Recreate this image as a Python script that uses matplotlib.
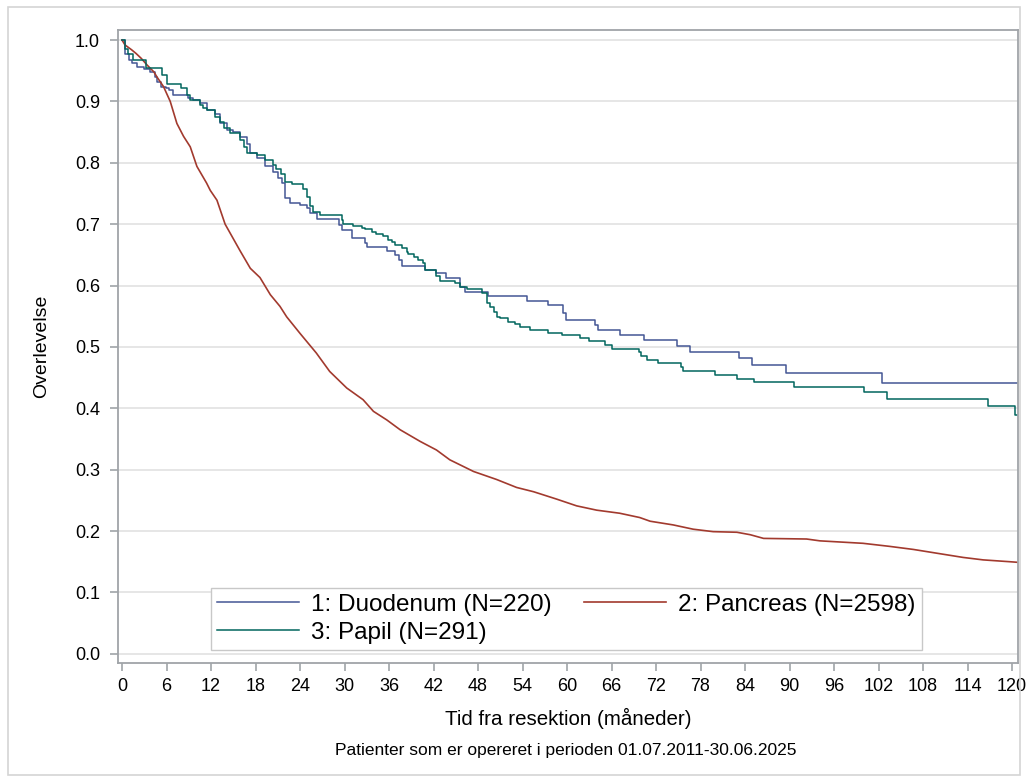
import matplotlib
matplotlib.use("Agg")
import matplotlib.pyplot as plt
from matplotlib.patches import Rectangle

# Kaplan-Meier survival (months, survival)
duo_t = [0, 0.4, 0.9, 1.3, 2.0, 3.0, 3.8, 4.5, 4.7, 5.3, 5.9, 6.4, 6.9, 8.9, 9.6,
         10.5, 11.4, 12.5, 13.2, 14.1, 15.0, 15.9, 16.8, 17.2, 18.2, 19.3, 20.4,
         21.0, 21.6, 22.0, 22.65, 24.0, 24.9, 25.35, 26.25, 29.2, 29.6, 31.0, 32.8,
         33.0, 35.7, 36.8, 37.3, 37.7, 40.85, 42.4, 43.7, 45.6, 46.2, 49.4, 54.6,
         57.5, 59.5, 59.9, 63.8, 64.2, 67.1, 70.4, 74.8, 76.6, 83.2, 85.0, 89.5,
         102.4, 120.8]
duo_s = [1.0, 0.978, 0.967, 0.962, 0.956, 0.952, 0.948, 0.940, 0.932, 0.924, 0.921,
         0.918, 0.910, 0.905, 0.902, 0.897, 0.886, 0.879, 0.864, 0.853, 0.850, 0.842,
         0.830, 0.816, 0.807, 0.794, 0.785, 0.775, 0.767, 0.742, 0.734, 0.732, 0.726,
         0.718, 0.708, 0.699, 0.690, 0.677, 0.669, 0.663, 0.656, 0.650, 0.642, 0.632,
         0.625, 0.621, 0.612, 0.598, 0.590, 0.583, 0.575, 0.568, 0.555, 0.544, 0.536,
         0.528, 0.520, 0.511, 0.502, 0.491, 0.482, 0.470, 0.457, 0.441, 0.441]

pan_t = [0, 0.4, 1.3, 1.9, 2.6, 3.4, 4.3, 4.7, 5.6, 6.5, 7.4, 8.3, 9.2, 10.1, 11.4,
         11.9, 12.8, 13.9, 15.9, 17.3, 18.6, 20.0, 21.3, 22.2, 24.0, 26.2, 28.0,
         30.3, 32.5, 33.9, 35.7, 37.5, 40.2, 42.4, 44.2, 47.4, 50.5, 53.2, 55.5,
         58.6, 61.3, 64.0, 67.1, 69.8, 71.2, 74.3, 77.0, 79.7, 82.9, 84.7, 86.5,
         92.3, 94.1, 99.9, 103.5, 106.7, 110.3, 113.4, 116.1, 119.7, 120.8]
pan_s = [1.0, 0.992, 0.984, 0.978, 0.970, 0.959, 0.948, 0.940, 0.924, 0.900, 0.864,
         0.843, 0.826, 0.794, 0.767, 0.755, 0.739, 0.700, 0.657, 0.628, 0.613, 0.585,
         0.566, 0.549, 0.522, 0.490, 0.460, 0.433, 0.414, 0.395, 0.381, 0.365, 0.346,
         0.332, 0.316, 0.297, 0.284, 0.271, 0.264, 0.252, 0.241, 0.234, 0.229, 0.222,
         0.216, 0.210, 0.203, 0.199, 0.198, 0.194, 0.188, 0.187, 0.184, 0.180, 0.175,
         0.170, 0.163, 0.157, 0.153, 0.150, 0.149]

pap_t = [0, 0.4, 0.8, 1.5, 3.3, 5.35, 6.0, 8.0, 8.7, 9.1, 10.5, 10.9, 11.4, 12.5,
         13.2, 13.7, 14.6, 15.9, 16.5, 16.8, 18.2, 19.3, 20.4, 20.8, 21.4, 22.0,
         22.9, 24.4, 24.9, 25.35, 25.8, 26.7, 29.6, 29.8, 31.2, 32.3, 32.8, 33.7,
         34.3, 35.2, 35.9, 36.4, 36.8, 37.7, 38.4, 38.6, 39.3, 39.95, 40.6, 40.85,
         42.4, 42.9, 44.9, 45.6, 46.5, 48.5, 49.2, 49.6, 50.1, 50.5, 50.97, 52.1,
         53.0, 53.7, 55.0, 57.5, 59.3, 61.7, 62.9, 65.1, 66.0, 69.7, 70.0, 70.8,
         72.2, 75.3, 75.6, 80.0, 82.9, 85.2, 90.6, 100.0, 103.2, 116.7, 120.4, 120.8]
pap_s = [1.0, 0.986, 0.978, 0.967, 0.954, 0.943, 0.929, 0.921, 0.910, 0.902, 0.894,
         0.890, 0.886, 0.875, 0.867, 0.856, 0.848, 0.837, 0.825, 0.816, 0.813, 0.805,
         0.796, 0.790, 0.782, 0.769, 0.765, 0.758, 0.745, 0.729, 0.720, 0.715, 0.706,
         0.700, 0.697, 0.694, 0.692, 0.688, 0.684, 0.680, 0.674, 0.671, 0.666, 0.661,
         0.655, 0.652, 0.647, 0.642, 0.637, 0.625, 0.615, 0.608, 0.604, 0.598, 0.594,
         0.587, 0.571, 0.565, 0.557, 0.549, 0.547, 0.541, 0.537, 0.533, 0.528, 0.523,
         0.520, 0.514, 0.509, 0.503, 0.497, 0.491, 0.485, 0.479, 0.473, 0.467, 0.461,
         0.454, 0.448, 0.442, 0.434, 0.426, 0.415, 0.403, 0.389, 0.389]

labels = ["1: Duodenum (N=220)", "2: Pancreas (N=2598)", "3: Papil (N=291)"]
colors = ["#445694", "#A23A2E", "#01665E"]
xticks = list(range(0, 121, 6))
yticks = [i / 10 for i in range(11)]

plt.rcParams["font.family"] = ["Liberation Sans", "DejaVu Sans"]

fig = plt.figure(figsize=(10.26, 7.8), dpi=100)
fig.patches.append(Rectangle((8 / 1026, 5 / 780), 1012 / 1026, 768 / 780,
                             transform=fig.transFigure, fill=False,
                             edgecolor="#d4d4d4", linewidth=1.2))
ax = fig.add_axes([118 / 1026, 117 / 780, 900 / 1026, 633 / 780])

l1, = ax.step(duo_t, duo_s, where="post", color=colors[0], lw=1.1)
l2, = ax.plot(pan_t, pan_s, color=colors[1], lw=1.2)
l3, = ax.step(pap_t, pap_s, where="post", color=colors[2], lw=1.1)

ax.set_xlim(-0.54, 120.8)
ax.set_ylim(-0.015, 1.0163)
ax.set_xticks(xticks)
ax.set_yticks(yticks)
ax.set_yticklabels([f"{v:.1f}" for v in yticks])
ax.grid(axis="y", color="#e2e2e2", lw=1.2)
ax.set_axisbelow(True)
for s in ax.spines.values():
    s.set_color("#a0a4a8")
    s.set_linewidth(1.3)
ax.tick_params(colors="#a0a4a8", length=6, width=1.2, labelcolor="black",
               labelsize=13)
ax.tick_params(axis="y", pad=7)
ax.tick_params(axis="x", pad=5)

ax.set_xlabel("Tid fra resektion (måneder)", fontsize=14.8, labelpad=9)
ax.set_ylabel("Overlevelse", fontsize=14, labelpad=18)
fig.text(566 / 1026, 1 - 751 / 780,
         "Patienter som er opereret i perioden 01.07.2011-30.06.2025",
         fontsize=12.5, ha="center", va="center")

leg = ax.legend([l1, l3, l2], [labels[0], labels[2], labels[1]], ncol=2,
                loc="lower center", bbox_to_anchor=(0.498, 0.0205),
                borderaxespad=0, prop={"size": 17.5},
                frameon=True, fancybox=False, edgecolor="#c8c8c8",
                handlelength=3.4, handletextpad=0.5, columnspacing=1.3,
                labelspacing=0.25, borderpad=0.25, framealpha=1)
leg.get_frame().set_linewidth(1.0)

fig.savefig("out.png", dpi=100)
